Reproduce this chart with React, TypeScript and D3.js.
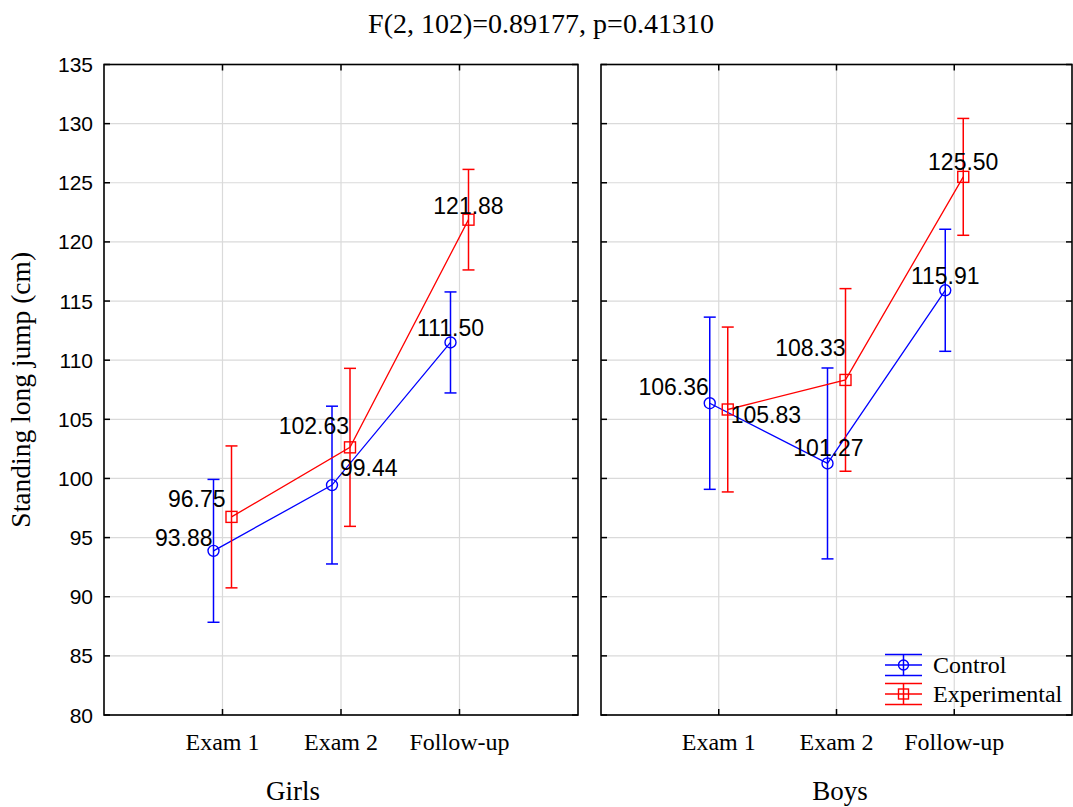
import * as d3 from "d3";
import { useEffect, useRef } from "react";

const exams = ["Exam 1", "Exam 2", "Follow-up"];
const panels = ["Girls", "Boys"];
const seriesNames = ["Control", "Experimental"];

// means and half-widths of the error bars
const girlsControl = [93.88, 99.44, 111.5];
const girlsControlErr = [6.04, 6.67, 4.27];
const girlsExperimental = [96.75, 102.63, 121.88];
const girlsExperimentalErr = [6.0, 6.68, 4.25];
const boysControl = [106.36, 101.27, 115.91];
const boysControlErr = [7.28, 8.07, 5.16];
const boysExperimental = [105.83, 108.33, 125.5];
const boysExperimentalErr = [6.97, 7.72, 4.94];

const yTicks = d3.range(80, 136, 5);
const title = "F(2, 102)=0.89177, p=0.41310";
const yTitle = "Standing long jump (cm)";

// where each value label sits relative to its point: [anchor, dx, dy]
type Place = [string, number, number];
const labelPlace: Place[][][] = [
  [
    [["end", -1, -5], ["start", 8, -9], ["middle", 0, -6]],
    [["end", -6, -10], ["end", -1, -13], ["middle", 0, -6]],
  ],
  [
    [["end", -1, -8], ["middle", 1, -7], ["middle", 0, -6]],
    [["start", 3, 13], ["end", 0, -24], ["middle", 0, -7]],
  ],
];

const colors = ["#0000ff", "#ff0000"];
const serif = "'Liberation Serif', 'Times New Roman', serif";
const sans = "'Liberation Sans', Arial, sans-serif";

export default function App() {
  const svgRef = useRef<SVGSVGElement>(null);
  const w = 1073;
  const h = 807;

  useEffect(() => {
    if (!svgRef.current) return;
    const svg = d3.select(svgRef.current);
    svg.selectAll("*").remove();

    const top = 64.5;
    const bottom = 715;
    const frames = [
      { x0: 104, x1: 578 },
      { x0: 601, x1: 1072 },
    ];
    const y = d3.scaleLinear().domain([80, 135]).range([bottom, top]);

    const data = [
      [
        { mean: girlsControl, err: girlsControlErr },
        { mean: girlsExperimental, err: girlsExperimentalErr },
      ],
      [
        { mean: boysControl, err: boysControlErr },
        { mean: boysExperimental, err: boysExperimentalErr },
      ],
    ];
    const offset = [-9, 9];

    svg
      .append("text")
      .attr("x", 541)
      .attr("y", 33)
      .attr("text-anchor", "middle")
      .attr("font-family", serif)
      .attr("font-size", 28)
      .text(title);

    svg
      .append("text")
      .attr("transform", `translate(30,${(top + bottom) / 2}) rotate(-90)`)
      .attr("text-anchor", "middle")
      .attr("font-family", serif)
      .attr("font-size", 27.5)
      .text(yTitle);

    // y tick labels, left panel only
    yTicks.forEach((t) => {
      svg
        .append("text")
        .attr("x", 93)
        .attr("y", y(t))
        .attr("dy", "0.36em")
        .attr("text-anchor", "end")
        .attr("font-family", sans)
        .attr("font-size", 21)
        .text(t);
    });

    const panelLabelX = [293, 840];

    frames.forEach((f, p) => {
      const x = d3.scalePoint<string>().domain(exams).range([f.x0, f.x1]).padding(1);
      const g = svg.append("g");

      // grid
      yTicks.forEach((t) => {
        g.append("line")
          .attr("x1", f.x0)
          .attr("x2", f.x1)
          .attr("y1", y(t))
          .attr("y2", y(t))
          .attr("stroke", "#dadada")
          .attr("stroke-width", 1.2);
      });
      exams.forEach((e) => {
        g.append("line")
          .attr("x1", x(e)!)
          .attr("x2", x(e)!)
          .attr("y1", top)
          .attr("y2", bottom)
          .attr("stroke", "#dadada")
          .attr("stroke-width", 1.2);
      });

      // inward ticks on all four sides
      yTicks.forEach((t) => {
        g.append("line").attr("x1", f.x0).attr("x2", f.x0 + 6).attr("y1", y(t)).attr("y2", y(t)).attr("stroke", "#000").attr("stroke-width", 1.5);
        g.append("line").attr("x1", f.x1 - 6).attr("x2", f.x1).attr("y1", y(t)).attr("y2", y(t)).attr("stroke", "#000").attr("stroke-width", 1.5);
      });
      exams.forEach((e) => {
        g.append("line").attr("x1", x(e)!).attr("x2", x(e)!).attr("y1", top).attr("y2", top + 6).attr("stroke", "#000").attr("stroke-width", 1.5);
        g.append("line").attr("x1", x(e)!).attr("x2", x(e)!).attr("y1", bottom - 6).attr("y2", bottom).attr("stroke", "#000").attr("stroke-width", 1.5);
        svg
          .append("text")
          .attr("x", x(e)!)
          .attr("y", 750)
          .attr("text-anchor", "middle")
          .attr("font-family", serif)
          .attr("font-size", 24)
          .text(e);
      });

      // series
      data[p].forEach((s, si) => {
        const col = colors[si];
        const px = (i: number) => x(exams[i])! + offset[si];
        const line = d3
          .line<number>()
          .x((_, i) => px(i))
          .y((d) => y(d));
        g.append("path")
          .attr("d", line(s.mean))
          .attr("fill", "none")
          .attr("stroke", col)
          .attr("stroke-width", 1.3);

        s.mean.forEach((m, i) => {
          const cx = px(i);
          const hi = y(m + s.err[i]);
          const lo = y(m - s.err[i]);
          g.append("line").attr("x1", cx).attr("x2", cx).attr("y1", hi).attr("y2", lo).attr("stroke", col).attr("stroke-width", 1.5);
          [hi, lo].forEach((yy) => {
            g.append("line").attr("x1", cx - 6).attr("x2", cx + 6).attr("y1", yy).attr("y2", yy).attr("stroke", col).attr("stroke-width", 1.5);
          });
          if (si === 0) {
            g.append("circle").attr("cx", cx).attr("cy", y(m)).attr("r", 5.5).attr("fill", "none").attr("stroke", col).attr("stroke-width", 1.4);
          } else {
            g.append("rect").attr("x", cx - 5.5).attr("y", y(m) - 5.5).attr("width", 11).attr("height", 11).attr("fill", "none").attr("stroke", col).attr("stroke-width", 1.4);
          }
        });
      });

      // value labels on top of the marks
      data[p].forEach((s, si) => {
        s.mean.forEach((m, i) => {
          const [anchor, dx, dy] = labelPlace[p][si][i];
          g.append("text")
            .attr("x", x(exams[i])! + offset[si] + dx)
            .attr("y", y(m) + dy)
            .attr("text-anchor", anchor)
            .attr("font-family", sans)
            .attr("font-size", 23)
            .attr("fill", "#000")
            .text(m.toFixed(2));
        });
      });

      // frame
      g.append("rect")
        .attr("x", f.x0)
        .attr("y", top)
        .attr("width", f.x1 - f.x0)
        .attr("height", bottom - top)
        .attr("fill", "none")
        .attr("stroke", "#000")
        .attr("stroke-width", 1.6);

      svg
        .append("text")
        .attr("x", panelLabelX[p])
        .attr("y", 800)
        .attr("text-anchor", "middle")
        .attr("font-family", serif)
        .attr("font-size", 27)
        .text(panels[p]);
    });

    // legend, bottom right of the Boys panel
    const lg = svg.append("g");
    seriesNames.forEach((name, si) => {
      const cy = 665 + si * 29;
      const col = colors[si];
      const lx0 = 885;
      const lx1 = 922;
      const mx = (lx0 + lx1) / 2;
      [cy - 10.5, cy, cy + 10.5].forEach((yy) => {
        lg.append("line").attr("x1", lx0).attr("x2", lx1).attr("y1", yy).attr("y2", yy).attr("stroke", col).attr("stroke-width", 1.5);
      });
      lg.append("line").attr("x1", mx).attr("x2", mx).attr("y1", cy - 10.5).attr("y2", cy + 10.5).attr("stroke", col).attr("stroke-width", 1.5);
      if (si === 0) {
        lg.append("circle").attr("cx", mx).attr("cy", cy).attr("r", 5).attr("fill", "none").attr("stroke", col).attr("stroke-width", 1.4);
      } else {
        lg.append("rect").attr("x", mx - 5).attr("y", cy - 5).attr("width", 10).attr("height", 10).attr("fill", "none").attr("stroke", col).attr("stroke-width", 1.4);
      }
      lg.append("text")
        .attr("x", 933)
        .attr("y", cy + 8)
        .attr("font-family", serif)
        .attr("font-size", 24)
        .text(name);
    });
  }, []);

  return (
    <svg
      ref={svgRef}
      width={w}
      height={h}
      viewBox={`0 0 ${w} ${h}`}
      style={{ position: "absolute", left: 0, top: 0, background: "#fff" }}
    />
  );
}
